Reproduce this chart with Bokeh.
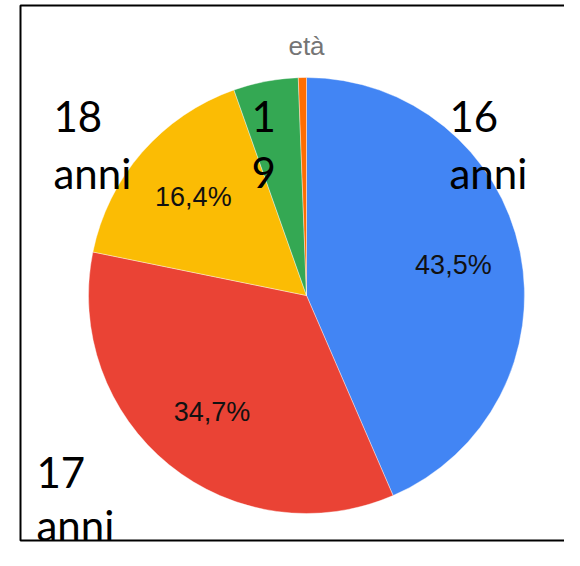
import math
from bokeh.plotting import figure
from bokeh.models import Range1d, ColumnDataSource
from bokeh.core.properties import value
from bokeh.embed import file_html
from bokeh.resources import INLINE

# ---- data ----
categories = ["16 anni", "17 anni", "18 anni", "19 anni", "altro"]
percentages = [43.5, 34.7, 16.4, 4.8, 0.6]
colors = ["#4285F4", "#EA4335", "#FBBC04", "#34A853", "#FF6D01"]
title_text = "età"

# big overlaid labels (line by line)
big_label_lines = [["16", "anni"], ["17", "anni"], ["18", "anni"], ["1", "9"]]

# ---- layout (reference pixel space, y downward) ----
W, H = 564, 550
REF_H = 566
BASE_FIX = 16  # svg alphabetic baseline offset compensation

def ty(y):
    return REF_H - y

p = figure(width=W, height=H, output_backend="svg", toolbar_location=None,
           x_range=Range1d(0, W), y_range=Range1d(REF_H - H, REF_H),
           min_border=0)
p.axis.visible = False
p.grid.visible = False
p.outline_line_color = None
p.background_fill_color = "white"

cx, cy, R = 306, ty(295), 218

total = sum(percentages)
starts, ends, lx, ly, ltxt = [], [], [], [], []
cum = 0.0
for v in percentages:
    a0 = math.pi / 2 - 2 * math.pi * cum / total
    cum += v
    a1 = math.pi / 2 - 2 * math.pi * cum / total
    starts.append(a0)
    ends.append(a1)
    mid = (a0 + a1) / 2
    if v >= 10:
        lx.append(cx + 150 * math.cos(mid))
        ly.append(cy + 150 * math.sin(mid))
        ltxt.append(f"{v:.1f}".replace(".", ",") + "%")

src = ColumnDataSource(dict(start=starts, end=ends, color=colors, cat=categories))
p.wedge(x=cx, y=cy, radius=R, start_angle="start", end_angle="end",
        direction="clock", fill_color="color", line_color="white", line_width=0.4,
        source=src)

p.text(x=lx, y=ly, text=ltxt, text_align="center", text_baseline="middle",
       text_font=value("Liberation Sans"), text_font_size="27px", text_color="#111111")

# title
p.text(x=[306], y=[ty(45)], text=[title_text], text_align="center", text_baseline="middle",
       text_font=value("Liberation Sans"), text_font_size="26px", text_color="#757575")

# frame box (left, top, bottom)
p.line(x=[W, 20, 20, W], y=[ty(5), ty(5), ty(540), ty(540)],
       line_color="black", line_width=2)

# big labels
big_pos = [(449, 132), (36, 488), (53, 132), (251, 132)]
line_gaps = [56, 52, 56, 56]
bx, by, btxt = [], [], []
for (x, y), gap, lines in zip(big_pos, line_gaps, big_label_lines):
    for i, t in enumerate(lines):
        bx.append(x)
        by.append(ty(y + i * gap - BASE_FIX))
        btxt.append(t)
p.text(x=bx, y=by, text=btxt, text_align="left", text_baseline="alphabetic",
       text_font=value("Lato"), text_font_size="42px", text_color="black")

open("out.html", "w").write(file_html(p, INLINE))
